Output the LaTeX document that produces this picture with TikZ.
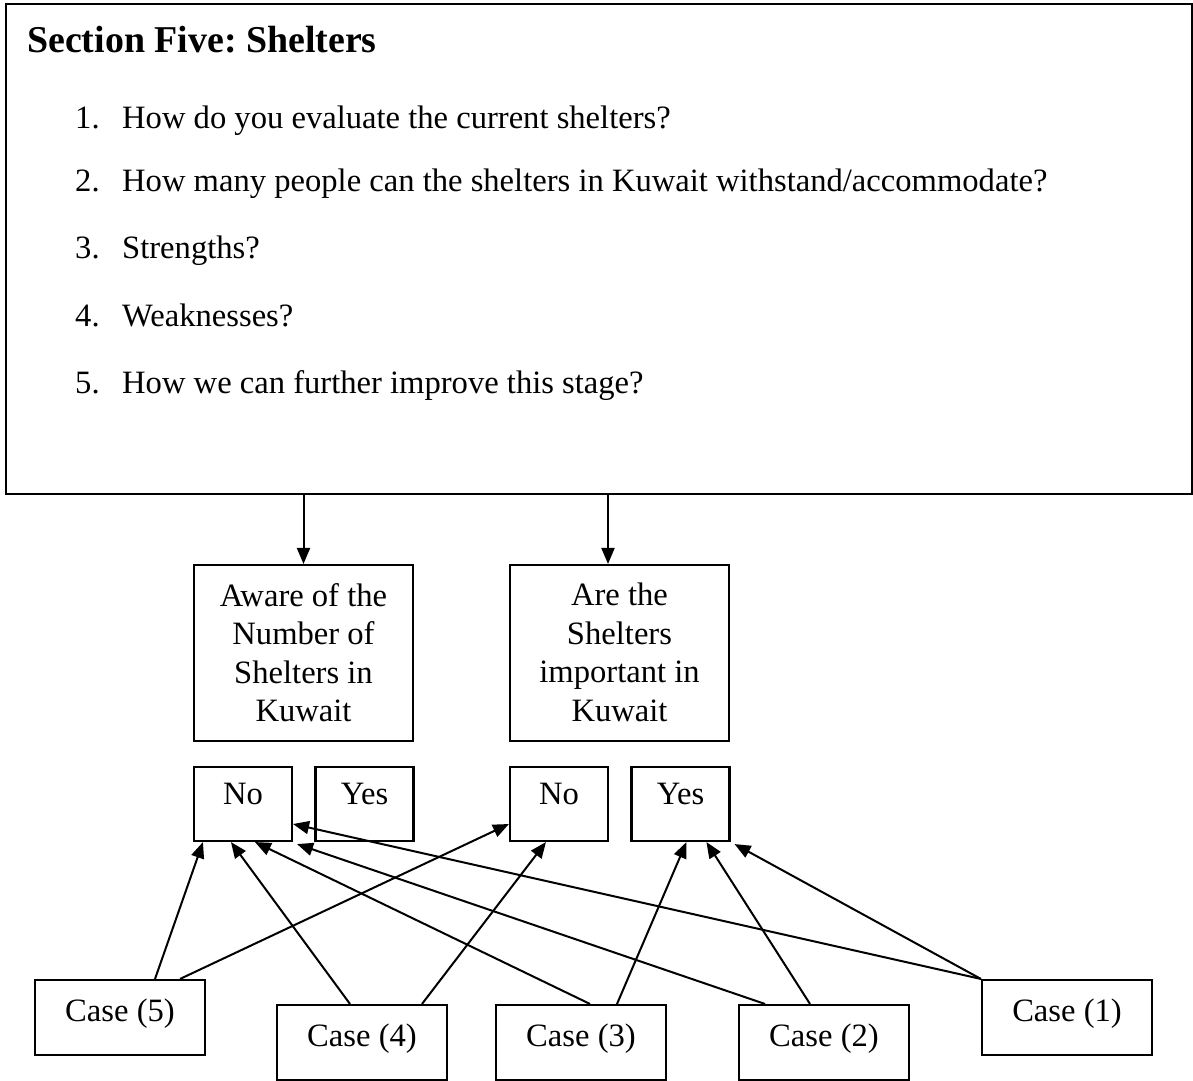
\documentclass[tikz,border=0pt]{standalone}
\usepackage{fontspec}
\setmainfont{Liberation Serif}
\usetikzlibrary{arrows.meta}
\frenchspacing

\begin{document}
\begin{tikzpicture}[x=1pt,y=-1pt,
  frame/.style={draw, line width=2.2pt, inner sep=0pt},
  box/.style={draw, line width=2.1pt, inner sep=0pt},
  body/.style={inner sep=0pt, font=\fontsize{32.6}{38.5}\selectfont},
  heading/.style={inner sep=0pt, font=\fontsize{37.9}{44}\selectfont\bfseries},
  answer/.style={box, minimum width=98pt, minimum height=74pt,
    font=\fontsize{32.6}{38.5}\selectfont, text height=22pt, text depth=22pt},
  casebox/.style={box, minimum width=170pt, minimum height=75pt,
    font=\fontsize{32.6}{38.5}\selectfont, text height=22pt, text depth=15pt},
  arr/.style={line width=2pt, -{Triangle[length=16pt,width=13pt]}}
]
\useasboundingbox (0,0) rectangle (1193,1080);

% question sheet
\node[frame, minimum width=1186pt, minimum height=490pt] (sheet) at (599,249) {};
\node[heading, anchor=base west] (title) at (27,52) {Section Five: Shelters};
\foreach \n/\y/\q in {1/128/{How do you evaluate the current shelters?},
                      2/191/{How many people can the shelters in Kuwait withstand/accommodate?},
                      3/258/{Strengths?},
                      4/326/{Weaknesses?},
                      5/393/{How we can further improve this stage?}}{
  \node[body, anchor=base west] (num\n) at (75,\y) {\n.};
  \node[body, anchor=base west] (q\n) at (122,\y) {\q};
}

% the two follow-up questions
\node[box, minimum width=219pt, minimum height=176pt] (aware) at (303.5,653) {};
\node[box, minimum width=219pt, minimum height=176pt] (important) at (619.5,653) {};
\node[body, anchor=north, align=center] (awaretext) at ([yshift=-19pt]aware.north)
  {Aware of the\\Number of\\Shelters in\\Kuwait};
\node[body, anchor=north, align=center] (importanttext) at ([yshift=-19pt]important.north)
  {Are the\\Shelters\\important in\\Kuwait};

% answers
\node[answer] (no1)  at (243,804) {No};
\node[answer] (yes1) at (364.5,804) {Yes};
\node[answer] (no2)  at (559,804) {No};
\node[answer] (yes2) at (680.5,804) {Yes};

% cases
\node[casebox] (c5) at (120,1017.5) {Case (5)};
\node[casebox] (c4) at (362,1042.5) {Case (4)};
\node[casebox] (c3) at (581,1042.5) {Case (3)};
\node[casebox] (c2) at (824,1042.5) {Case (2)};
\node[casebox] (c1) at (1067,1017.5) {Case (1)};

% sheet to questions
\draw[arr] (aware.north |- sheet.south) -- (aware.north);
\draw[arr] ([xshift=-11.5pt]important.north |- sheet.south) -- ([xshift=-11.5pt]important.north);

% cases to answers
\draw[arr] ([xshift=35pt]c5.north)  -- ([xshift=10pt]no1.south west);
\draw[arr] ([xshift=60pt]c5.north)  -- ([yshift=-20pt]no2.west);
\draw[arr] ([xshift=-12pt]c4.north) -- ([xshift=38pt]no1.south west);
\draw[arr] ([xshift=60pt]c4.north)  -- ([xshift=37pt]no2.south west);
\draw[arr] ([xshift=9pt]c3.north)   -- ([xshift=62pt]no1.south west);
\draw[arr] ([xshift=36pt]c3.north)  -- ([xshift=56pt]yes2.south west);
\draw[arr] ([xshift=-59pt]c2.north) -- ([xshift=4pt,yshift=-2pt]no1.south east);
\draw[arr] ([xshift=-14pt]c2.north) -- ([xshift=76pt]yes2.south west);
\draw[arr] (c1.north west) -- ([yshift=-20pt]no1.east);
\draw[arr] (c1.north west) -- ([xshift=4pt,yshift=-2pt]yes2.south east);
\end{tikzpicture}
\end{document}
